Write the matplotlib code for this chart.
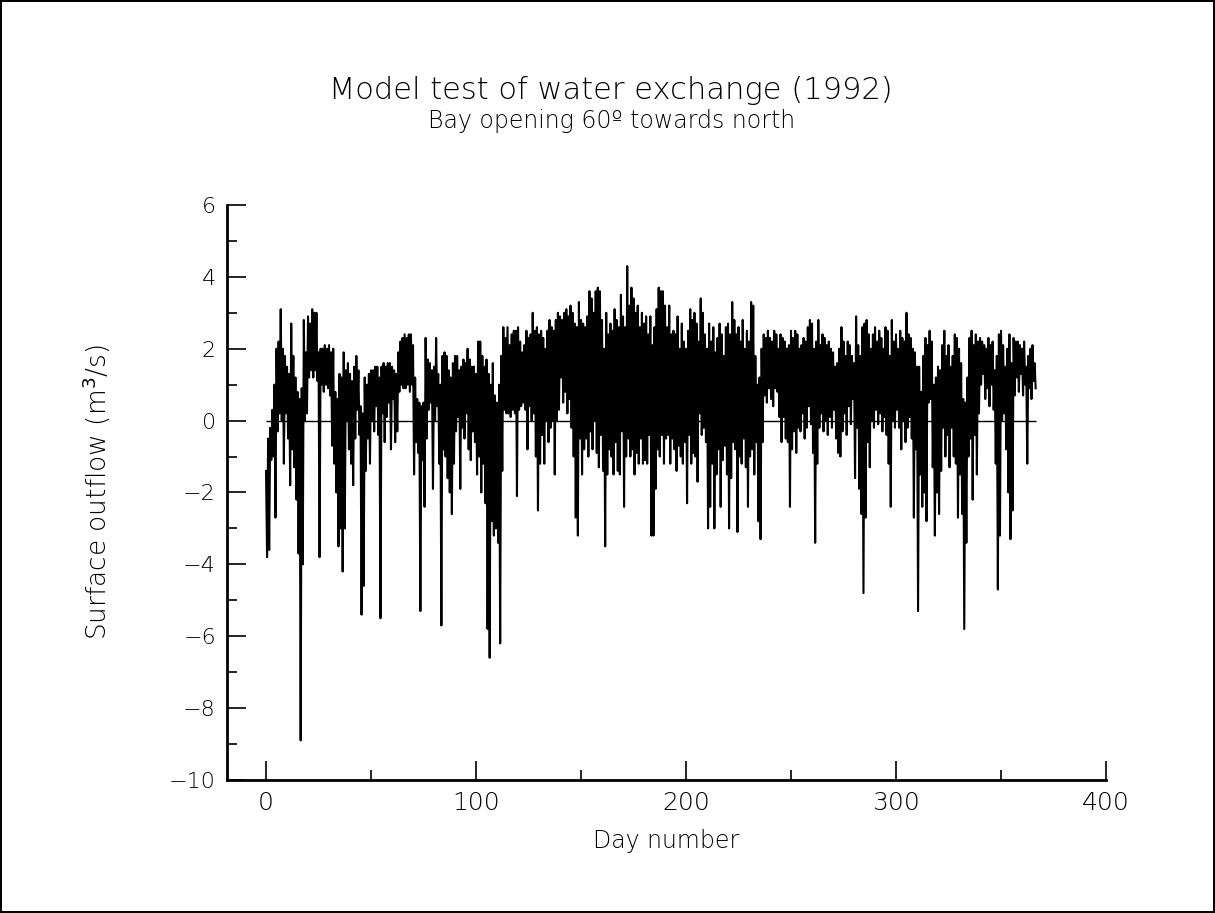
import matplotlib
matplotlib.use("Agg")
import matplotlib.pyplot as plt
import numpy as np
from matplotlib.ticker import MultipleLocator

# Daily envelope of surface outflow (m3/s), days 0..366
day_high = [
    -1.4, -0.5, -0.2, 0.3, 1.0, 2.0, 2.2, 3.1, 2.0, 1.8,
    1.5, 1.3, 2.7, 1.8, 1.2, 0.8, 0.6, 0.9, 2.8, 1.9,
    2.9, 2.7, 3.1, 3.0, 3.0, 1.9, 2.0, 2.0, 2.1, 2.0,
    2.1, 1.9, 2.0, 0.8, 0.6, 1.3, 1.2, 1.9, 1.4, 1.6,
    1.3, 1.1, 1.5, 1.8, 1.4, 0.4, 0.2, 1.2, 1.0, 1.3,
    1.4, 1.4, 1.5, 1.5, 1.2, 1.5, 1.6, 1.5, 1.6, 1.6,
    1.5, 1.4, 1.3, 1.9, 2.2, 2.3, 2.4, 2.3, 2.4, 2.4,
    2.1, 1.2, 0.6, 0.5, 0.4, 0.5, 2.3, 1.7, 1.6, 1.4,
    1.5, 2.3, 1.3, 1.0, 1.8, 1.9, 1.8, 1.4, 1.2, 1.6,
    1.8, 1.8, 1.4, 1.5, 1.7, 1.6, 2.0, 1.7, 1.5, 1.5,
    1.3, 2.2, 2.2, 1.8, 1.5, 1.7, 1.3, 1.0, 1.6, 0.7,
    0.5, 1.0, 1.8, 2.6, 2.3, 2.6, 2.1, 2.4, 2.5, 2.5,
    2.6, 2.2, 1.9, 2.1, 2.5, 2.3, 2.4, 3.0, 2.5, 2.6,
    2.4, 2.5, 2.3, 2.0, 2.5, 2.8, 2.6, 2.5, 2.8, 3.0,
    2.9, 2.8, 3.0, 3.1, 2.9, 3.2, 3.0, 2.7, 2.6, 3.3,
    2.8, 2.7, 2.6, 2.9, 3.6, 3.4, 3.0, 3.6, 3.7, 3.6,
    2.8, 2.0, 3.0, 2.4, 2.7, 2.5, 3.1, 2.8, 2.6, 3.5,
    2.9, 2.6, 4.3, 3.2, 3.7, 3.4, 3.0, 3.2, 2.6, 3.0,
    2.7, 2.9, 2.4, 2.9, 2.1, 2.6, 3.1, 3.7, 3.6, 3.6,
    3.2, 2.6, 3.2, 2.4, 2.5, 2.4, 2.9, 2.0, 2.7, 2.2,
    2.0, 2.5, 3.1, 2.8, 3.0, 2.7, 2.2, 3.4, 3.0, 2.4,
    2.0, 2.7, 2.2, 2.6, 1.9, 2.3, 2.7, 2.4, 1.8, 2.6,
    2.7, 2.4, 3.3, 2.8, 2.4, 2.6, 2.2, 2.8, 2.0, 2.5,
    2.2, 3.3, 3.2, 1.8, 1.0, 1.2, 2.0, 2.4, 2.3, 2.5,
    2.3, 2.2, 2.5, 2.4, 2.0, 2.4, 2.3, 2.2, 2.0, 2.1,
    2.5, 2.3, 2.5, 2.4, 2.0, 2.1, 2.3, 2.2, 2.6, 2.8,
    2.7, 2.0, 2.2, 2.8, 2.1, 2.4, 2.3, 2.1, 2.2, 2.0,
    1.9, 1.5, 1.6, 2.0, 2.6, 2.2, 1.8, 2.2, 2.1, 1.8,
    1.6, 2.9, 2.1, 1.8, 2.6, 2.7, 2.8, 2.4, 2.0, 2.4,
    2.6, 2.2, 2.5, 2.3, 2.0, 2.6, 2.5, 1.8, 2.8, 2.2,
    2.4, 2.0, 2.5, 2.3, 2.2, 3.0, 2.4, 2.3, 2.0, 1.9,
    1.5, 1.5, 0.8, 1.8, 2.3, 2.1, 2.5, 2.2, 1.0, 1.2,
    1.5, 1.4, 2.1, 2.5, 1.8, 2.1, 1.5, 1.8, 2.4, 2.3,
    2.0, 1.6, 0.6, 0.5, 1.2, 2.3, 2.5, 2.1, 2.4, 2.2,
    2.3, 2.2, 2.1, 2.0, 2.3, 2.1, 2.2, 1.4, 1.8, 2.4,
    2.5, 2.1, 1.5, 2.0, 2.4, 1.6, 2.3, 2.2, 2.2, 2.1,
    2.0, 2.2, 1.5, 1.8, 2.0, 2.1, 1.6,
]
day_low = [
    -3.8, -3.6, -1.1, -1.0, -2.7, -0.3, 0.2, 0.0, -1.2, 0.2,
    -0.5, -1.8, -0.8, -1.3, -2.2, -3.7, -8.9, -4.0, 0.0, 0.2,
    1.2, 1.4, 1.2, 1.4, 1.1, -3.8, 1.0, 0.8, 1.0, 0.9,
    0.7, -0.7, -1.2, -2.0, -3.5, -3.0, -4.2, -3.0, 0.0, -0.8,
    -1.2, -1.8, -0.5, 0.3, -0.4, -5.4, -4.6, -1.4, -0.5, -1.2,
    0.0, -0.3, 0.4, -0.4, -5.5, 0.2, -0.6, 0.1, 0.5, -0.8,
    0.6, -0.6, -0.3, 0.8, 1.0, 0.9, 0.9, 1.0, 0.8, 1.0,
    -1.5, -0.6, -0.9, -5.3, -1.1, -2.4, -0.5, 0.3, 0.5, -1.9,
    0.0, 0.4, -1.2, -5.7, -0.8, -1.0, -1.6, -2.0, -2.6, -1.2,
    -0.3, 0.1, -1.9, -0.2, -0.5, 0.2, -0.8, -1.1, -0.3, -0.6,
    -1.5, -1.0, -2.0, -1.2, -2.3, -5.8, -6.6, -2.8, -3.2, -3.0,
    -3.4, -6.2, -1.4, 0.3, 0.2, 0.2, 0.1, 0.3, 0.2, -2.1,
    0.3, 0.4, 0.5, 0.3, -0.8, 0.4, 0.0, 0.2, -1.0, -2.5,
    -1.2, -0.4, -1.2, 0.0, -0.6, -0.2, 0.0, -1.5, 0.0, 0.3,
    1.2, 0.5, 0.8, 0.2, 0.6, -0.2, -1.0, -2.7, -3.2, -0.5,
    -1.5, -0.8, -0.5, -1.0, -0.3, -0.8, 0.0, -0.9, -1.3, -0.4,
    -1.4, -3.5, -1.5, -0.8, -1.0, -1.5, -0.6, -1.4, -1.5, -0.3,
    -2.4, -1.0, -0.5, -1.0, -0.8, -1.5, -0.9, -1.2, -0.5, -1.2,
    -1.1, -1.2, -0.4, -3.2, -3.2, -1.9, -0.8, -1.0, -0.4, -1.2,
    -0.5, -0.4, -1.2, -0.5, -0.8, -1.4, -0.7, -1.0, -1.2, -0.6,
    -2.3, -0.4, -1.2, -0.9, -1.0, -1.7, 0.2, -0.4, -0.2, -0.6,
    -3.0, -2.4, -1.2, -3.0, -1.5, -0.8, -2.4, -1.1, -0.7, -1.5,
    -3.0, -1.6, -0.6, -0.8, -3.1, -1.0, -1.2, -0.5, -1.3, -2.4,
    -1.0, -0.8, -1.5, -0.6, -2.8, -3.3, -0.6, 0.7, 0.5, 0.9,
    0.6, 0.4, 0.9, 0.8, 0.1, -0.6, 0.1, -0.5, -0.6, -2.4,
    -0.8, -0.3, -0.9, -0.2, -0.3, 0.2, -0.5, -0.2, 0.4, -0.1,
    -0.9, -3.4, -1.2, -0.2, 0.2, -0.3, 0.0, -0.4, 0.1, -0.2,
    0.3, -0.5, -0.9, -1.0, -0.3, 0.2, -0.4, 0.4, -0.1, 0.6,
    -1.6, -0.2, -1.9, -2.6, -4.8, -2.7, -0.6, -1.3, 0.0, -0.2,
    0.3, -0.1, 0.2, -0.3, 0.1, -0.4, -1.2, -2.4, 0.0, -0.2,
    0.3, -0.2, -0.8, 0.0, -0.6, -0.2, 0.1, -0.5, -2.7, -0.8,
    -5.3, -1.5, -2.4, -2.0, -2.8, 0.5, 0.6, -1.3, -3.2, -2.0,
    -2.6, -1.4, -0.2, -1.0, -0.4, -1.3, -0.2, -1.0, -1.2, -2.7,
    -1.5, -2.6, -5.8, -3.4, -1.0, -0.5, -2.2, -0.4, -1.5, 0.2,
    1.0, 1.3, 0.6, 0.9, 0.4, 1.0, 0.3, -1.2, -4.7, -3.2,
    0.0, 0.2, -0.8, -2.0, -3.3, -2.5, 0.7, 1.2, 0.8, 1.3,
    0.7, 1.0, -1.2, 0.9, 0.6, 1.1, 0.9,
]

x_ticks = [0, 100, 200, 300, 400]
y_ticks = [-10, -8, -6, -4, -2, 0, 2, 4, 6]

FONT = ["DejaVu Sans"]

days = np.arange(len(day_high), dtype=float)
# alternate daily maximum and minimum so the trace oscillates like the hourly series
t = np.column_stack([days, days + 0.5]).ravel()
flow = np.column_stack([day_high, day_low]).ravel()

fig = plt.figure(figsize=(12.15, 9.13), dpi=100)
fig.patch.set_edgecolor("black")
fig.patch.set_linewidth(1.5)

ax = fig.add_axes([0.1868, 0.1457, 0.7235, 0.6298])
ax.plot(t, flow, color="black", lw=1.5)
ax.hlines(0, t[0], t[-1], color="black", lw=1.0)

ax.set_xlim(-18.6, 400)
ax.set_ylim(-10, 6)
ax.set_xticks(x_ticks)
ax.set_yticks(y_ticks)
ax.xaxis.set_minor_locator(MultipleLocator(50))
ax.yaxis.set_minor_locator(MultipleLocator(1))
ax.set_yticklabels([f"\u2212{abs(v)}" if v < 0 else str(v) for v in y_ticks])

for side in ("top", "right"):
    ax.spines[side].set_visible(False)
for side in ("left", "bottom"):
    ax.spines[side].set_linewidth(2.0)

ax.tick_params(which="major", direction="in", length=14, width=1.2,
               labelsize=16, pad=8)
ax.tick_params(which="minor", direction="in", length=7, width=1.2)
ax.tick_params(axis="x", which="major", labelsize=18, pad=8)
for lab in ax.get_xticklabels() + ax.get_yticklabels():
    lab.set_family(FONT)
    lab.set_fontweight("light")

ax.set_xlabel("Day number", fontsize=17, family=FONT, fontweight="light",
              labelpad=10)
ax.set_ylabel("Surface outflow (m$^3$/s)", fontsize=19, family=FONT,
              fontweight="light", labelpad=40)

fig.text(0.503, 0.901, "Model test of water exchange (1992)",
         ha="center", va="center", fontsize=22, family=FONT, fontweight="light")
fig.text(0.503, 0.867, "Bay opening 60\u00ba towards north",
         ha="center", va="center", fontsize=17, family=FONT, fontweight="light")

fig.savefig("out.png", dpi=100, edgecolor=fig.get_edgecolor())
